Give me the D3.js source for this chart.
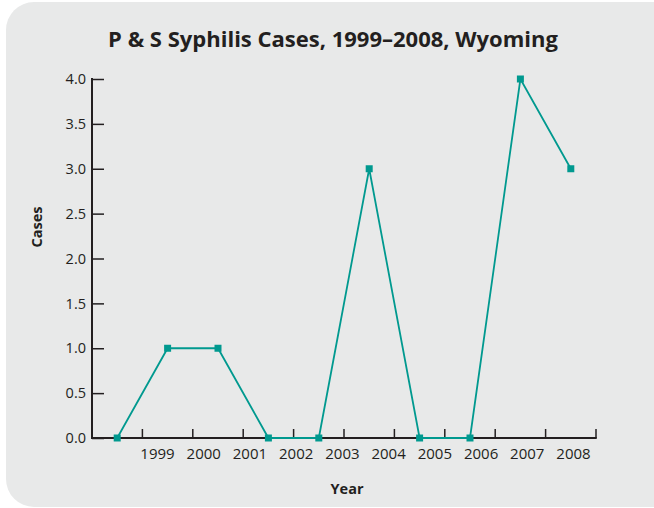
<!DOCTYPE html>
<html>
<head>
<meta charset="utf-8">
<script src="https://cdn.jsdelivr.net/npm/d3@7"></script>
<style>
  body { margin: 0; background: #ffffff; }
  text { font-family: "Open Sans", "Noto Sans", sans-serif; fill: #231f20; }
</style>
</head>
<body>
<svg id="drawing_region"></svg>
<script>
// data
const years = ['1999', '2000', '2001', '2002', '2003', '2004', '2005', '2006', '2007', '2008'];
const cases = [0, 1, 1, 0, 0, 3, 0, 0, 4, 3];
const yTicks = [0, 0.5, 1, 1.5, 2, 2.5, 3, 3.5, 4];

const config = {
    width: 654,
    height: 508,
    margin: {top: 79, right: 58, bottom: 70, left: 92},
    title: 'P & S Syphilis Cases, 1999\u20132008, Wyoming',
    xlabel: 'Year',
    ylabel: 'Cases'
};

const svg = d3.select('#drawing_region')
    .attr('width', config.width)
    .attr('height', config.height);

// rounded grey panel
svg.append('rect')
    .attr('x', 6).attr('y', 2)
    .attr('width', 676).attr('height', 505)
    .attr('rx', 28).attr('ry', 28)
    .attr('fill', '#e8e9e9');

const inner_width = config.width - config.margin.left - config.margin.right;
const inner_height = config.height - config.margin.top - config.margin.bottom;

const chart = svg.append('g')
    .attr('transform', `translate(${config.margin.left}, ${config.margin.top})`);

// one band per year, points sit in band centres, ticks on band edges
const xscale = d3.scaleBand()
    .domain(years)
    .range([0, inner_width])
    .padding(0);

// the year labels in the original are spread a bit tighter than the bands
const labelscale = d3.scalePoint()
    .domain(years)
    .range([65, 481]);

const yscale = d3.scaleLinear()
    .domain([0, 4])
    .range([inner_height, 0]);

// y axis: ticks pointing inward, labels on the left
const yaxis_group = chart.append('g');
yaxis_group.call(d3.axisRight(yscale).tickValues(yTicks).tickSize(12).tickFormat(d3.format('.1f')));
yaxis_group.select('.domain').remove();
yaxis_group.selectAll('.tick line').attr('stroke', '#231f20').attr('stroke-width', 1.5);
yaxis_group.selectAll('.tick text')
    .attr('x', -6)
    .attr('text-anchor', 'end')
    .style('font-size', '14.5px');
yaxis_group.append('line')
    .attr('x1', 0).attr('x2', 0)
    .attr('y1', -1).attr('y2', inner_height + 1)
    .attr('stroke', '#231f20').attr('stroke-width', 2);

// x axis: ticks at the right edge of each band, pointing up
const xaxis_group = chart.append('g')
    .attr('transform', `translate(0, ${inner_height})`);
xaxis_group.selectAll('line.xtick')
    .data(years)
    .join('line')
    .attr('class', 'xtick')
    .attr('x1', d => xscale(d) + xscale.bandwidth())
    .attr('x2', d => xscale(d) + xscale.bandwidth())
    .attr('y1', 0).attr('y2', -9)
    .attr('stroke', '#231f20').attr('stroke-width', 1.5);
xaxis_group.append('line')
    .attr('x1', -1).attr('x2', inner_width + 0.75)
    .attr('y1', 0).attr('y2', 0)
    .attr('stroke', '#231f20').attr('stroke-width', 2);

const label_group = chart.append('g')
    .attr('transform', `translate(0, ${inner_height})`);
label_group.call(d3.axisBottom(labelscale).tickSize(0).tickPadding(10));
label_group.select('.domain').remove();
label_group.selectAll('.tick text').style('font-size', '15px');

// the series
const line = d3.line()
    .x((d, i) => xscale(years[i]) + xscale.bandwidth() / 2)
    .y(d => yscale(d));

chart.append('path')
    .datum(cases)
    .attr('fill', 'none')
    .attr('stroke', '#00998f')
    .attr('stroke-width', 1.8)
    .attr('d', line);

const msize = 7;
chart.selectAll('rect.marker')
    .data(cases)
    .join('rect')
    .attr('class', 'marker')
    .attr('x', (d, i) => xscale(years[i]) + xscale.bandwidth() / 2 - msize / 2)
    .attr('y', d => yscale(d) - msize / 2)
    .attr('width', msize)
    .attr('height', msize)
    .attr('fill', '#00998f');

// title and axis labels
svg.append('text')
    .attr('x', 333)
    .attr('y', 47)
    .attr('text-anchor', 'middle')
    .style('font-size', '22px')
    .style('font-weight', 'bold')
    .text(config.title);

svg.append('text')
    .attr('x', 347)
    .attr('y', 494)
    .attr('text-anchor', 'middle')
    .style('font-size', '14.5px')
    .style('font-weight', 'bold')
    .text(config.xlabel);

svg.append('text')
    .attr('transform', 'rotate(-90)')
    .attr('x', -227)
    .attr('y', 42)
    .attr('text-anchor', 'middle')
    .style('font-size', '14.5px')
    .style('font-weight', 'bold')
    .text(config.ylabel);
</script>
</body>
</html>
